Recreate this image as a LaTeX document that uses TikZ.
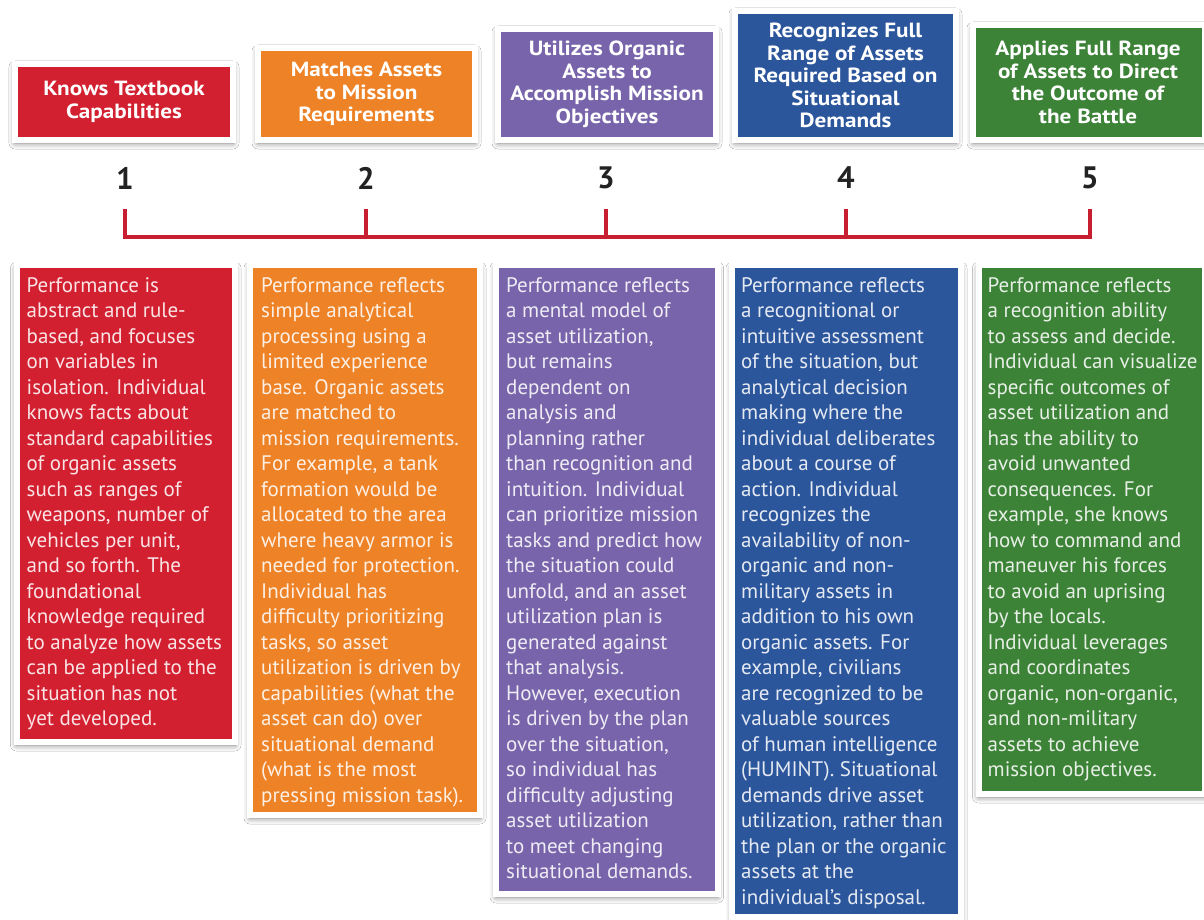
\documentclass[tikz,border=0pt]{standalone}
\usepackage{fontspec}
\setmainfont{PT Sans}
\newfontfamily\titlefont[FakeStretch=1.13]{PT Sans}
\usetikzlibrary{shadows.blur}
\definecolor{cRed}{RGB}{210,32,48}
\definecolor{cOrange}{RGB}{238,130,38}
\definecolor{cPurple}{RGB}{120,100,170}
\definecolor{cBlue}{RGB}{44,86,156}
\definecolor{cGreen}{RGB}{60,130,55}
\definecolor{cLine}{RGB}{200,30,50}
\definecolor{cNum}{RGB}{34,34,34}
\begin{document}
\begin{tikzpicture}[x=1pt,y=-1pt,
  card/.style={draw=white, line width=6pt, fill=#1, inner sep=0pt, outer sep=0pt, anchor=north west,
    blur shadow={shadow xshift=0pt, shadow yshift=-3pt, shadow blur radius=6pt, shadow opacity=55}},
  title/.style={align=center, text=white, inner sep=0pt, font=\titlefont\fontsize{20.5}{22.5}\selectfont\bfseries},
  body/.style={anchor=base west, inner sep=0pt, text=white, text opacity=0.88, font=\fontsize{21}{25.5}\selectfont},
  num/.style={text=cNum, inner sep=0pt, font=\fontsize{31}{31}\selectfont\bfseries},
  tline/.style={draw=cLine, line width=4.5pt, line cap=butt, line join=miter}]
\useasboundingbox (0,0) rectangle (1204,920);
\fill[white] (0,0) rectangle (1204,920);

% top boxes
\node[card=cRed, minimum width=218pt, minimum height=76pt] (c1) at (15,64) {};
\node[card=cOrange, minimum width=217pt, minimum height=92pt] (c2) at (258,48) {};
\node[card=cPurple, minimum width=218pt, minimum height=111pt] (c3) at (498,29) {};
\node[card=cBlue, minimum width=221pt, minimum height=129pt] (c4) at (735,11) {};
\node[card=cGreen, minimum width=232pt, minimum height=115pt] (c5) at (973,25) {};

\node[title] (h1) at (c1.center) {Knows Textbook\\Capabilities};
\node[title] (h2) at (c2.center) {Matches Assets\\to Mission\\Requirements};
\node[title] (h3) at (c3.center) {Utilizes Organic\\Assets to\\Accomplish Mission\\Objectives};
\node[title] (h4) at (c4.center) {Recognizes Full\\Range of Assets\\Required Based on\\Situational\\Demands};
\node[title] (h5) at ([xshift=-1pt]c5.center) {Applies Full Range\\of Assets to Direct\\the Outcome of\\the Battle};

% numbers
\node[num] (n1) at (125,178) {1};
\node[num] (n2) at (366,178) {2};
\node[num] (n3) at (606,178) {3};
\node[num] (n4) at (846,178) {4};
\node[num] (n5) at (1090,178) {5};

% timeline
\coordinate (k1) at (125,209); \coordinate (j1) at (125,237);
\coordinate (k2) at (366,209); \coordinate (j2) at (366,237);
\coordinate (k3) at (606,209); \coordinate (j3) at (606,237);
\coordinate (k4) at (846,209); \coordinate (j4) at (846,237);
\coordinate (k5) at (1090,209); \coordinate (j5) at (1090,237);
\draw[tline] (k1) -- (j1) -- (j5) -- (k5);
\draw[tline] (k2) -- (j2);
\draw[tline] (k3) -- (j3);
\draw[tline] (k4) -- (j4);

% bottom boxes
\node[card=cRed, minimum width=218.5pt, minimum height=477pt] (d1) at (16.5,265) {};
\node[card=cOrange, minimum width=230pt, minimum height=550pt] (d2) at (250,265) {};
\node[card=cPurple, minimum width=221.5pt, minimum height=629pt] (d3) at (496,265) {};
\node[card=cBlue, minimum width=229pt, minimum height=652pt] (d4) at (732,265) {};
\node[card=cGreen, minimum width=226pt, minimum height=529pt] (d5) at (978.5,265) {};

\node[body] (t1) at ([xshift=10pt,yshift=-27pt]d1.north west) {\parbox[t]{260pt}{\raggedright
Performance is\\abstract and rule-\\based, and focuses\\on variables in\\isolation. Individual\\knows facts about\\standard capabilities\\of organic assets\\such as ranges of\\weapons, number of\\vehicles per unit,\\and so forth. The\\foundational\\knowledge required\\to analyze how assets\\can be applied to the\\situation has not\\yet developed.}};
\node[body] (t2) at ([xshift=11pt,yshift=-27pt]d2.north west) {\parbox[t]{260pt}{\raggedright
Performance reflects\\simple analytical\\processing using a\\limited experience\\base. Organic assets\\are matched to\\mission requirements.\\For example, a tank\\formation would be\\allocated to the area\\where heavy armor is\\needed for protection.\\Individual has\\difficulty prioritizing\\tasks, so asset\\utilization is driven by\\capabilities (what the\\asset can do) over\\situational demand\\(what is the most\\pressing mission task).}};
\node[body] (t3) at ([xshift=10pt,yshift=-27pt]d3.north west) {\parbox[t]{260pt}{\raggedright
Performance reflects\\a mental model of\\asset utilization,\\but remains\\dependent on\\analysis and\\planning rather\\than recognition and\\intuition. Individual\\can prioritize mission\\tasks and predict how\\the situation could\\unfold, and an asset\\utilization plan is\\generated against\\that analysis.\\However, execution\\is driven by the plan\\over the situation,\\so individual has\\difficulty adjusting\\asset utilization\\to meet changing\\situational demands.}};
\node[body] (t4) at ([xshift=9pt,yshift=-27pt]d4.north west) {\parbox[t]{260pt}{\raggedright
Performance reflects\\a recognitional or\\intuitive assessment\\of the situation, but\\analytical decision\\making where the\\individual deliberates\\about a course of\\action. Individual\\recognizes the\\availability of non-\\organic and non-\\military assets in\\addition to his own\\organic assets. For\\example, civilians\\are recognized to be\\valuable sources\\of human intelligence\\(HUMINT). Situational\\demands drive asset\\utilization, rather than\\the plan or the organic\\assets at the\\individual’s disposal.}};
\node[body] (t5) at ([xshift=9pt,yshift=-27pt]d5.north west) {\parbox[t]{260pt}{\raggedright
Performance reflects\\a recognition ability\\to assess and decide.\\Individual can visualize\\specific outcomes of\\asset utilization and\\has the ability to\\avoid unwanted\\consequences. For\\example, she knows\\how to command and\\maneuver his forces\\to avoid an uprising\\by the locals.\\Individual leverages\\and coordinates\\organic, non-organic,\\and non-military\\assets to achieve\\mission objectives.}};
\end{tikzpicture}
\end{document}
